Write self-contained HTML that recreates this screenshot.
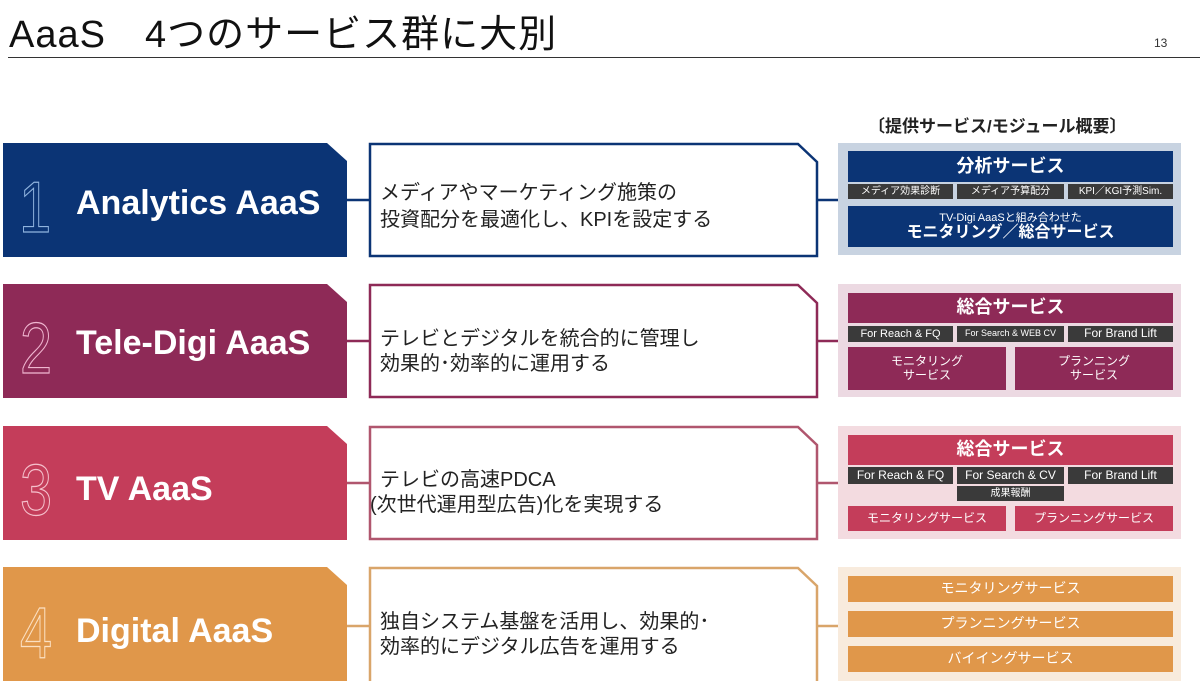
<!DOCTYPE html>
<html><head><meta charset="utf-8"><style>
*{margin:0;padding:0;box-sizing:border-box}
body{width:1200px;height:681px;background:#fff;position:relative;overflow:hidden;font-family:"Liberation Sans","Noto Sans CJK JP",sans-serif}
.a{position:absolute}
.c{display:flex;align-items:center;justify-content:center;color:#fff;text-align:center;line-height:1.1}
.g{background:#3a3a3a;color:#fff;font-size:10px}
</style></head><body>
<div class="a" style="left:9px;top:3px;font-size:38px;font-weight:normal;color:#111;letter-spacing:1px">AaaS　4つのサービス群に大別</div>
<div class="a" style="left:8px;top:57px;width:1192px;height:1px;background:#333"></div>
<div class="a" style="left:1154px;top:36px;font-size:12px;color:#333">13</div>
<div class="a" style="left:868px;top:112px;font-size:17px;font-weight:bold;color:#222">〔提供サービス/モジュール概要〕</div>

<svg class="a" style="left:0;top:0" width="1200" height="681">
<g font-family="Liberation Sans, Noto Sans CJK JP, sans-serif">
<!-- row1 -->
<polygon points="3,143 327,143 347,161 347,257 3,257" fill="#0b3475"/>
<polygon points="370,144 798,144 817,162 817,256 370,256" fill="#fff" stroke="#0b3475" stroke-width="2.5"/>
<line x1="347" y1="200" x2="370" y2="200" stroke="#0b3475" stroke-width="2.5"/>
<line x1="817" y1="200" x2="838" y2="200" stroke="#0b3475" stroke-width="2.5"/>
<text x="24" y="232" font-size="72" fill="none" stroke="#8fb3de" stroke-width="1.2" transform="scale(0.8,1)">1</text>
<text x="76" y="214" font-size="34" fill="#fff" font-weight="bold">Analytics AaaS</text>
<text x="380" y="199" font-size="20" fill="#222">メディアやマーケティング施策の</text>
<text x="380" y="226" font-size="20" fill="#222">投資配分を最適化し、KPIを設定する</text>
<!-- row2 -->
<polygon points="3,284 327,284 347,302 347,398 3,398" fill="#8e2a57"/>
<polygon points="370,285 798,285 817,303 817,397 370,397" fill="#fff" stroke="#8e2a57" stroke-width="2.5"/>
<line x1="347" y1="341" x2="370" y2="341" stroke="#8e2a57" stroke-width="2.5"/>
<line x1="817" y1="341" x2="838" y2="341" stroke="#8e2a57" stroke-width="2.5"/>
<text x="25" y="373" font-size="72" fill="none" stroke="#f0b6d0" stroke-width="1.2" transform="scale(0.8,1)">2</text>
<text x="76" y="354" font-size="34" fill="#fff" font-weight="bold">Tele-Digi AaaS</text>
<text x="380" y="345" font-size="20" fill="#222">テレビとデジタルを統合的に管理し</text>
<text x="380" y="370" font-size="20" fill="#222">効果的･効率的に運用する</text>
<!-- row3 -->
<polygon points="3,426 327,426 347,444 347,540 3,540" fill="#c43d5a"/>
<polygon points="370,427 798,427 817,445 817,539 370,539" fill="#fff" stroke="#b0566e" stroke-width="2.5"/>
<line x1="347" y1="483" x2="370" y2="483" stroke="#b0566e" stroke-width="2.5"/>
<line x1="817" y1="483" x2="838" y2="483" stroke="#b0566e" stroke-width="2.5"/>
<text x="25" y="515" font-size="72" fill="none" stroke="#f5c0cc" stroke-width="1.2" transform="scale(0.8,1)">3</text>
<text x="76" y="500" font-size="34" fill="#fff" font-weight="bold">TV AaaS</text>
<text x="380" y="486" font-size="20" fill="#222">テレビの高速PDCA</text>
<text x="370" y="511" font-size="20" fill="#222">(次世代運用型広告)化を実現する</text>
<!-- row4 -->
<polygon points="3,567 327,567 347,585 347,681 3,681" fill="#e0974a"/>
<polygon points="370,568 798,568 817,586 817,684 370,684" fill="#fff" stroke="#d9a56a" stroke-width="2.5"/>
<line x1="347" y1="626" x2="370" y2="626" stroke="#d9a56a" stroke-width="2.5"/>
<line x1="817" y1="626" x2="838" y2="626" stroke="#d9a56a" stroke-width="2.5"/>
<text x="25" y="658" font-size="72" fill="none" stroke="#fbe0c2" stroke-width="1.2" transform="scale(0.8,1)">4</text>
<text x="76" y="642" font-size="34" fill="#fff" font-weight="bold">Digital AaaS</text>
<text x="380" y="628" font-size="20" fill="#222">独自システム基盤を活用し、効果的･</text>
<text x="380" y="653" font-size="20" fill="#222">効率的にデジタル広告を運用する</text>
</g></svg>

<!-- right panel 1 -->
<div class="a" style="left:838px;top:143px;width:343px;height:112px;background:#c8d3e1"></div>
<div class="a c" style="left:848px;top:151px;width:325px;height:31px;background:#0b3475;font-size:18px;font-weight:bold">分析サービス</div>
<div class="a c g" style="left:848px;top:184px;width:105px;height:15px">メディア効果診断</div>
<div class="a c g" style="left:957px;top:184px;width:107px;height:15px">メディア予算配分</div>
<div class="a c g" style="left:1068px;top:184px;width:105px;height:15px">KPI／KGI予測Sim.</div>
<div class="a c" style="left:848px;top:206px;width:325px;height:41px;background:#0b3475;flex-direction:column"><span style="font-size:11px">TV-Digi AaaSと組み合わせた</span><span style="font-size:16px;font-weight:bold">モニタリング／総合サービス</span></div>
<!-- right panel 2 -->
<div class="a" style="left:838px;top:284px;width:343px;height:113px;background:#ecd9e2"></div>
<div class="a c" style="left:848px;top:293px;width:325px;height:30px;background:#8e2a57;font-size:18px;font-weight:bold">総合サービス</div>
<div class="a c g" style="left:848px;top:326px;width:105px;height:16px;font-size:11px">For Reach &amp; FQ</div>
<div class="a c g" style="left:957px;top:326px;width:107px;height:16px;font-size:9px">For Search &amp; WEB CV</div>
<div class="a c g" style="left:1068px;top:326px;width:105px;height:16px;font-size:12px">For Brand Lift</div>
<div class="a c" style="left:848px;top:347px;width:158px;height:43px;background:#8e2a57;font-size:12px">モニタリング<br>サービス</div>
<div class="a c" style="left:1015px;top:347px;width:158px;height:43px;background:#8e2a57;font-size:12px">プランニング<br>サービス</div>
<!-- right panel 3 -->
<div class="a" style="left:838px;top:426px;width:343px;height:113px;background:#f3dbe0"></div>
<div class="a c" style="left:848px;top:435px;width:325px;height:30px;background:#c43d5a;font-size:18px;font-weight:bold">総合サービス</div>
<div class="a c g" style="left:848px;top:467px;width:105px;height:17px;font-size:12px">For Reach &amp; FQ</div>
<div class="a c g" style="left:957px;top:467px;width:107px;height:17px;font-size:12px">For Search &amp; CV</div>
<div class="a c g" style="left:1068px;top:467px;width:105px;height:17px;font-size:12px">For Brand Lift</div>
<div class="a c g" style="left:957px;top:486px;width:107px;height:15px">成果報酬</div>
<div class="a c" style="left:848px;top:506px;width:158px;height:25px;background:#c43d5a;font-size:12px">モニタリングサービス</div>
<div class="a c" style="left:1015px;top:506px;width:158px;height:25px;background:#c43d5a;font-size:12px">プランニングサービス</div>
<!-- right panel 4 -->
<div class="a" style="left:838px;top:567px;width:343px;height:114px;background:#f8ebdd"></div>
<div class="a c" style="left:848px;top:576px;width:325px;height:26px;background:#e0974a;font-size:14px">モニタリングサービス</div>
<div class="a c" style="left:848px;top:611px;width:325px;height:26px;background:#e0974a;font-size:14px">プランニングサービス</div>
<div class="a c" style="left:848px;top:646px;width:325px;height:26px;background:#e0974a;font-size:14px">バイイングサービス</div>
</body></html>
